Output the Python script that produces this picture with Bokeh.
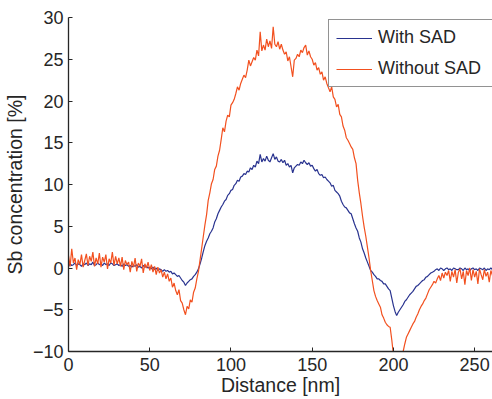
from bokeh.plotting import figure
from bokeh.models import FixedTicker, CustomJSTickFormatter, Legend, LegendItem, Range1d
from bokeh.embed import file_html
from bokeh.resources import INLINE

# Distance axis (nm), sampled every 1 nm
distance = list(range(0, 262))

with_sad = [
    0.2, 0.5, 0.3, 0.4, 0.6, 0.3, 0.5, 0.4, 0.2, 0.5,
    0.4, 0.6, 0.3, 0.5, 0.4, 0.7, 0.3, 0.4, 0.6, 0.4,
    0.5, 0.3, 0.6, 0.4, 0.5, 0.3, 0.6, 0.5, 0.3, 0.4,
    0.5, 0.3, 0.4, 0.2, 0.5, 0.3, 0.4, 0.2, 0.3, 0.1,
    0.3, 0.2, 0.4, 0.1, 0.2, 0.0, 0.3, 0.1, 0.2, 0.0,
    0.1, -0.1, 0.1, -0.2, 0.0, -0.3, -0.1, -0.2, -0.4, -0.2,
    -0.4, -0.3, -0.5, -0.4, -0.7, -0.6, -0.8, -1.0, -0.9, -1.2,
    -1.5, -1.7, -2.1, -1.8, -1.6, -1.4, -1.3, -1.0, -0.8, -0.5,
    -0.1, 0.5, 1.2, 2.0, 2.7, 3.2, 3.6, 4.1, 4.4, 4.8,
    5.5, 5.9, 6.5, 6.9, 7.3, 7.6, 8.0, 8.2, 8.7, 8.9,
    9.3, 9.4, 9.9, 10.1, 10.5, 10.4, 10.9, 11.0, 11.3, 11.2,
    11.6, 11.5, 12.0, 11.8, 12.3, 12.1, 12.8, 12.5, 13.6, 12.7,
    13.1, 12.8, 13.4, 12.9, 12.7, 13.2, 13.7, 13.0, 13.3, 12.8,
    12.7, 13.0, 12.6, 12.9, 12.3, 12.5, 12.1, 12.3, 11.4, 12.0,
    12.2, 12.4, 12.3, 12.7, 12.5, 12.9, 12.6, 12.4, 12.6, 12.2,
    12.3, 11.9, 11.6, 11.8, 11.3, 11.1, 11.2, 10.8, 10.9, 10.6,
    10.4, 10.2, 9.8, 9.9, 9.3, 9.1, 8.9, 8.6, 8.0, 7.6,
    7.3, 7.2, 6.9, 6.6, 6.5, 5.9, 5.3, 4.8, 4.4, 3.6,
    3.1, 2.3, 1.8, 1.2, 0.7, 0.2, -0.3, -0.5, -0.8, -1.0,
    -1.3, -1.3, -1.5, -1.6, -1.9, -1.9, -2.2, -2.5, -2.7, -3.6,
    -4.5, -5.2, -5.7, -5.3, -5.0, -4.7, -4.4, -4.0, -3.8, -3.5,
    -3.2, -3.0, -2.8, -2.5, -2.2, -2.1, -1.9, -1.7, -1.5, -1.4,
    -1.1, -1.0, -0.8, -0.6, -0.5, -0.4, -0.2, -0.1, -0.3, 0.0,
    -0.1, -0.3, -0.1, 0.0, -0.2, -0.1, -0.3, 0.0, -0.1, -0.2,
    -0.2, 0.0, -0.1, -0.3, 0.0, -0.2, -0.1, -0.3, -0.1, 0.0,
    -0.2, -0.1, -0.3, 0.0, -0.1, -0.2, 0.0, -0.3, -0.1, -0.2,
    0.0, -0.2,
]

without_sad = [
    1.5, 0.2, 2.3, 0.6, 1.2, -0.2, 1.0, 0.4, 1.6, 0.1,
    0.9, 1.7, 0.3, 1.4, 0.8, 1.9, 0.2, 1.2, 0.5, 1.8,
    0.1, 1.3, 0.7, 1.6, -0.1, 1.1, 0.6, 1.9, 0.3, 1.4,
    0.5, 1.2, 0.2, 1.3, -0.2, 0.9, 0.4, 0.7, -0.5, 0.8,
    0.1, 1.2, -0.4, 0.6, 0.2, 1.1, -0.6, 0.5, 0.0, 0.7,
    -0.3, 0.4, -0.5, 0.2, -0.8, 0.1, -0.6, -0.2, -1.1, -0.5,
    -1.3, -0.7, -1.6, -1.2, -2.3, -1.8, -2.7, -3.2, -2.6, -3.9,
    -4.2, -5.0, -5.6, -4.6, -4.9, -3.8, -4.1, -2.9, -2.4, -1.3,
    -0.4, 1.0, 2.4, 3.8, 5.2, 6.4, 8.1, 9.0, 10.1, 10.6,
    11.8, 12.2, 13.4, 14.1, 15.4, 16.8, 16.3, 17.6, 18.3, 18.1,
    19.5, 19.8, 20.2, 20.9, 21.7, 21.3, 22.1, 22.6, 23.1, 22.8,
    23.7, 24.9, 24.2, 24.7, 25.2, 24.9, 26.1, 25.4, 28.3, 26.0,
    26.7, 26.1, 27.4, 26.5, 27.2, 26.3, 28.9, 26.8, 26.5, 27.1,
    26.2, 26.8, 26.1, 25.6, 25.9, 24.8, 25.3, 24.1, 22.9, 24.9,
    25.1, 25.6, 25.3, 26.1, 25.8, 26.4, 26.7, 25.5, 26.0, 25.3,
    25.0, 24.3, 24.6, 23.7, 24.0, 23.2, 23.5, 22.5, 22.9, 22.1,
    21.6, 21.1, 21.7, 20.5, 20.2, 19.3, 19.6, 18.4, 18.1, 17.0,
    16.5, 15.6, 15.3, 14.9, 14.5, 14.2, 13.2, 12.5, 10.5, 9.0,
    7.7, 6.2, 4.9, 3.8, 2.5, 1.2, -0.3, -1.5, -2.7, -3.4,
    -3.9, -4.3, -4.7, -5.6, -6.0, -6.5, -6.8, -7.0, -7.1, -8.6,
    -10.4, -11.3, -11.8, -11.5, -11.0, -10.5, -10.0, -9.1, -8.3, -7.9,
    -7.5, -7.1, -6.7, -6.4, -5.9, -5.5, -5.0, -4.6, -4.3, -3.9,
    -3.6, -3.1, -2.6, -2.3, -2.0, -1.6, -1.8, -1.3, -0.9, -1.5,
    -0.6, -1.2, -0.5, -0.9, -0.3, -1.6, -0.4, -1.1, -0.2, -1.8,
    -0.5, -0.1, -1.3, -0.4, -2.0, -0.3, -0.9, 0.0, -1.5, -0.2,
    -1.1, -0.4, -1.9, -0.1, -0.8, -1.4, -0.2, -1.0, -0.5, -1.7,
    -0.3, -0.9,
]

x_ticks = [0, 50, 100, 150, 200, 250]
y_ticks = [-10, -5, 0, 5, 10, 15, 20, 25, 30]
series_labels = ["With SAD", "Without SAD"]

FONT = "Liberation Sans"
TXT = "#262626"
BLUE = "#29338f"
ORANGE = "#f2501f"

p = figure(width=492, height=399, output_backend="svg", toolbar_location=None,
           x_range=Range1d(0, 261), y_range=Range1d(-10, 30),
           min_border_left=68, min_border_right=0, min_border_top=17, min_border_bottom=48)
p.outline_line_color = None
p.xgrid.visible = False
p.ygrid.visible = False
p.background_fill_color = "white"
p.border_fill_color = "white"

r1 = p.line(distance, with_sad, line_color=BLUE, line_width=1.2)
r2 = p.line(distance, without_sad, line_color=ORANGE, line_width=1.2)

fmt = CustomJSTickFormatter(code="return tick < 0 ? '\\u2212' + Math.abs(tick) : String(tick);")
for ax, ticks in ((p.xaxis[0], x_ticks), (p.yaxis[0], y_ticks)):
    ax.ticker = FixedTicker(ticks=ticks)
    ax.formatter = fmt
    ax.major_tick_in = 4
    ax.major_tick_out = 0
    ax.minor_tick_line_color = None
    ax.axis_line_color = TXT
    ax.axis_line_width = 1.3
    ax.major_tick_line_color = TXT
    ax.major_label_text_font = FONT
    ax.major_label_text_font_size = "18px"
    ax.major_label_text_color = TXT
    ax.axis_label_text_font = FONT
    ax.axis_label_text_font_size = "19.5px"
    ax.axis_label_text_font_style = "normal"
    ax.axis_label_text_color = TXT

p.xaxis[0].axis_label = "Distance [nm]"
p.xaxis[0].major_label_standoff = 6
p.xaxis[0].axis_label_standoff = 0
p.yaxis[0].axis_label = "Sb concentration [%]"
p.yaxis[0].major_label_standoff = 5
p.yaxis[0].axis_label_standoff = 4

legend = Legend(items=[LegendItem(label=series_labels[0], renderers=[r1]),
                       LegendItem(label=series_labels[1], renderers=[r2])],
                location=(260, 264), padding=7, spacing=10, margin=0,
                glyph_width=36, glyph_height=20, label_height=20, label_width=107,
                label_standoff=6,
                label_text_font=FONT, label_text_font_size="18px", label_text_color=TXT,
                border_line_color=TXT, border_line_width=1.2,
                background_fill_color="white", background_fill_alpha=1.0)
p.add_layout(legend)

open("out.html", "w").write(file_html(p, INLINE))
